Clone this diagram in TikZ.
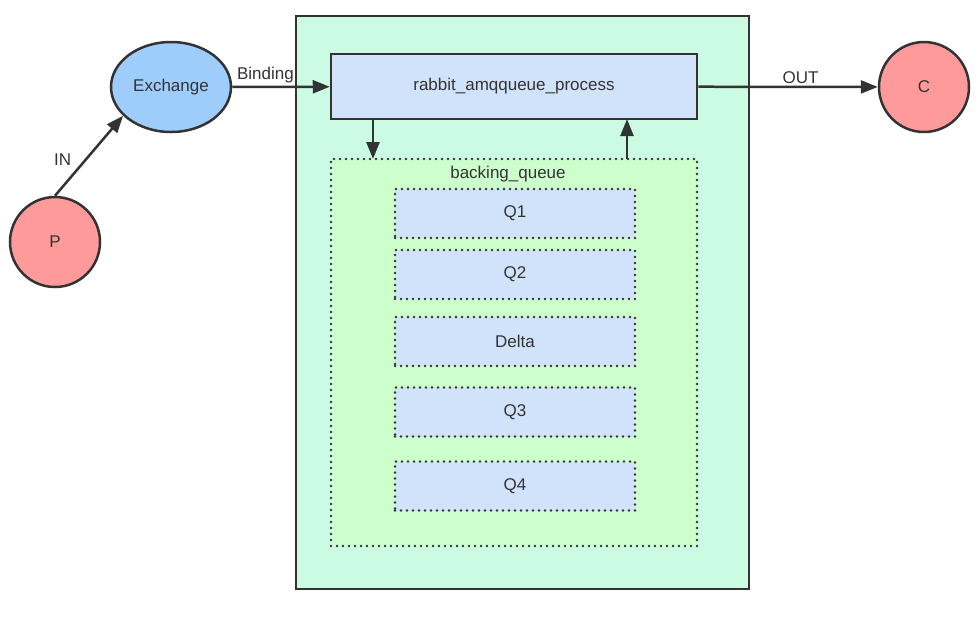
\documentclass[tikz,border=0pt]{standalone}
\usepackage{fontspec}
\setmainfont{Liberation Sans}
\usetikzlibrary{arrows.meta,shapes.geometric}
\definecolor{mint}{HTML}{CCFBE3}
\definecolor{procblue}{HTML}{D0E3FA}
\definecolor{bqgreen}{HTML}{CCFFCC}
\definecolor{exblue}{HTML}{9ECDFB}
\definecolor{pred}{HTML}{FF9A9A}
\definecolor{edge}{HTML}{333333}
\tikzset{
  txt/.style={text=edge, font=\fontsize{17}{20}\selectfont},
  base/.style={draw=edge, line width=2.5pt, txt},
  circ/.style={base, circle, fill=pred, minimum size=90pt, inner sep=0pt},
  dots/.style={draw=edge, line width=2.6pt, line cap=round, dash pattern=on 0pt off 6pt},
  qbox/.style={dots, fill=procblue, minimum width=240pt, minimum height=49pt, txt},
  conn/.style={draw=edge, line width=2.5pt, -{Triangle[length=17pt,width=13pt]}},
  lbl/.style={txt}
}
\begin{document}
\begin{tikzpicture}[x=1pt,y=-1pt]
\useasboundingbox (0,0) rectangle (980,625);
% outer container
\node[draw=edge, line width=2.5pt, fill=mint, minimum width=453pt, minimum height=573pt, inner sep=0pt] (outer) at (522.5,302.5) {};
% process
\node[base, fill=procblue, minimum width=366pt, minimum height=65pt, inner sep=0pt] (proc) at (514,86.5) {rabbit\_amqqueue\_process};
% backing queue
\node[dots, fill=bqgreen, minimum width=366pt, minimum height=387pt, inner sep=0pt] (bq) at (514,352.5) {};
\node[lbl] (bqlabel) at (508,174) {backing\_queue};
\node[qbox] (q1) at (515,213.5) {Q1};
\node[qbox] (q2) at (515,274.5) {Q2};
\node[qbox] (delta) at (515,341.5) {Delta};
\node[qbox] (q3) at (515,412) {Q3};
\node[qbox] (q4) at (515,486) {Q4};
% outer nodes
\node[base, ellipse, fill=exblue, minimum width=120pt, minimum height=90pt, inner sep=0pt] (ex) at (171,87) {Exchange};
\node[circ] (p) at (55,242) {P};
\node[circ] (c) at (924,87) {C};
% connectors
\draw[conn] (p.north) -- (ex.211) node[lbl, pos=0.45, left=10pt] {IN};
\draw[conn] (ex) -- (proc) node[lbl, pos=0.34, above=-1pt] {Binding};
\draw[conn] (proc) -- (c) node[lbl, pos=0.57, above=-1pt] {OUT};
\coordinate (d1) at (373,119);
\coordinate (d2) at (373,159);
\coordinate (u1) at (627,159);
\coordinate (u2) at (627,119);
\draw[conn] (d1) -- (d2);
\draw[conn] (u1) -- (u2);
\end{tikzpicture}
\end{document}
